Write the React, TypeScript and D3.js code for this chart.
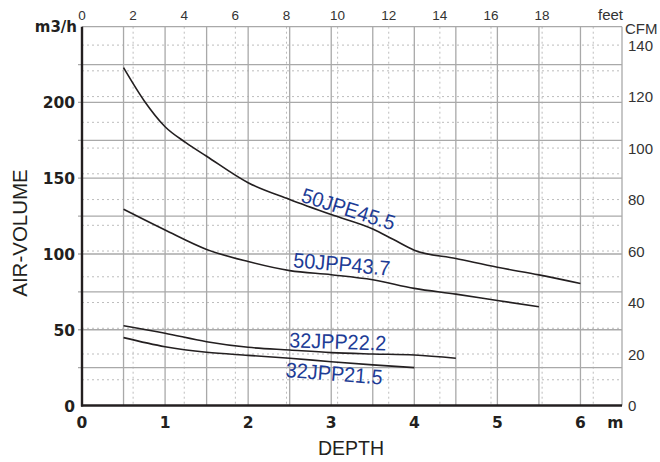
import React from "react";
import * as d3 from "d3";

// ---- data ----
const depthTicks = [0, 1, 2, 3, 4, 5, 6];
const airTicks = [0, 50, 100, 150, 200];
const feetTicks = [0, 2, 4, 6, 8, 10, 12, 14, 16, 18];
const cfmTicks = [0, 20, 40, 60, 80, 100, 120, 140];

const depthJPE455 = [0.5, 0.75, 1, 1.25, 1.5, 2, 2.5, 3, 3.5, 3.75, 4, 4.5, 5, 5.5, 6];
const airJPE455 = [223, 201, 184, 173.5, 164.5, 147, 136, 126, 116.5, 109.5, 102.5, 97, 91.2, 86.2, 80.5];

const depthJPP437 = [0.5, 1, 1.5, 2, 2.5, 3, 3.5, 4, 4.5, 5, 5.5];
const airJPP437 = [129.5, 115.8, 103, 95, 89, 86.3, 83, 77.3, 73.5, 69.3, 65.2];

const depthJPP222 = [0.5, 1, 1.5, 2, 2.5, 3, 3.5, 4, 4.5];
const airJPP222 = [52.7, 47.7, 42.1, 38.4, 36.6, 34.9, 34, 33.3, 31.2];

const depthJPP215 = [0.5, 1, 1.5, 2, 2.5, 3, 3.5, 4];
const airJPP215 = [44.8, 38.8, 35.1, 33.1, 31.2, 28.9, 26.8, 25];

const seriesNames = ["50JPE45.5", "50JPP43.7", "32JPP22.2", "32JPP21.5"];

const M3H_PER_CFM = 1.699;
const FT_PER_M = 3.25; // as drawn on the reference's top axis

const W = 660;
const H = 462;
const margin = { left: 82, right: 38, top: 26.7, bottom: 56.5 };

export default function App() {
  const x = d3.scaleLinear().domain([0, 6.5]).range([margin.left, W - margin.right]);
  const y = d3.scaleLinear().domain([0, 250]).range([H - margin.bottom, margin.top]);
  const xFeet = d3
    .scaleLinear()
    .domain([0, 20])
    .range([x(0), x(20 / FT_PER_M)]);
  const yCfm = d3
    .scaleLinear()
    .domain([0, 140])
    .range([y(0), y(140 * M3H_PER_CFM)]);

  const line = d3
    .line<[number, number]>()
    .x((d) => x(d[0]))
    .y((d) => y(d[1]))
    .curve(d3.curveMonotoneX);

  const series = [
    { d: depthJPE455, v: airJPE455 },
    { d: depthJPP437, v: airJPP437 },
    { d: depthJPP222, v: airJPP222 },
    { d: depthJPP215, v: airJPP215 },
  ];

  const solidV = d3.range(0.5, 6.01, 0.5);
  const solidH = d3.range(25, 226, 25);
  const dottedV = d3.range(2, 21, 2);
  const dottedH = d3.range(10, 141, 10);

  const x0 = x(0);
  const x1 = x(6.5);
  const y0 = y(0);
  const y1 = y(250);

  const gridGrey = "#a9a9a9";
  const dotGrey = "#bdbdbd";
  const ink = "#231f20";
  const blue = "#1d3c96";

  // label placements (depth, air-volume, rotation)
  const labels = [
    { text: seriesNames[0], dx: 3.18, dv: 125, rot: 17.5 },
    { text: seriesNames[1], dx: 3.12, dv: 88.5, rot: 5 },
    { text: seriesNames[2], dx: 3.075, dv: 37.3, rot: 2 },
    { text: seriesNames[3], dx: 3.03, dv: 16.3, rot: 4.5 },
  ];

  return (
    <svg
      width={W}
      height={H}
      style={{ position: "absolute", left: 0, top: 0, background: "#fff" }}
      fontFamily="'Liberation Sans', Arial, sans-serif"
    >
      <rect x={0} y={0} width={W} height={H} fill="#fff" />
      {/* dotted grid (feet / CFM) */}
      {dottedV.map((f) => (
        <line
          key={"dv" + f}
          x1={xFeet(f)}
          x2={xFeet(f)}
          y1={y1}
          y2={y0}
          stroke={dotGrey}
          strokeWidth={1}
          strokeDasharray="2 3"
        />
      ))}
      {dottedH.map((c) => (
        <line
          key={"dh" + c}
          x1={x0}
          x2={x1}
          y1={yCfm(c)}
          y2={yCfm(c)}
          stroke={dotGrey}
          strokeWidth={1}
          strokeDasharray="2 3"
        />
      ))}
      {/* solid grid */}
      {solidV.map((m) => (
        <line key={"sv" + m} x1={x(m)} x2={x(m)} y1={y1} y2={y0} stroke={gridGrey} strokeWidth={1.3} />
      ))}
      {solidH.map((v) => (
        <line key={"sh" + v} x1={x0 - 4} x2={x1} y1={y(v)} y2={y(v)} stroke={gridGrey} strokeWidth={1.3} />
      ))}
      <line x1={x0} x2={x1} y1={y1} y2={y1} stroke={gridGrey} strokeWidth={1.3} />
      <line x1={x1} x2={x1} y1={y1} y2={y0} stroke={gridGrey} strokeWidth={1.3} />

      {/* axes */}
      <line x1={x0} x2={x0} y1={y1} y2={y0 + 1} stroke={ink} strokeWidth={2.4} />
      <line x1={x0 - 1} x2={x1} y1={y0} y2={y0} stroke={ink} strokeWidth={2.4} />

      {/* curves */}
      {series.map((s, i) => (
        <path
          key={"s" + i}
          d={line(s.d.map((dd, j) => [dd, s.v[j]] as [number, number])) || ""}
          fill="none"
          stroke={ink}
          strokeWidth={1.6}
        />
      ))}

      {/* series labels */}
      {labels.map((l) => (
        <text
          key={l.text}
          x={x(l.dx)}
          y={y(l.dv)}
          transform={`rotate(${l.rot} ${x(l.dx)} ${y(l.dv)})`}
          textAnchor="middle"
          fontSize={21}
          fill={blue}
          textLength={97}
          lengthAdjust="spacingAndGlyphs"
        >
          {l.text}
        </text>
      ))}

      {/* left axis labels */}
      {airTicks.map((v) => (
        <text
          key={"la" + v}
          x={x0 - 7}
          y={y(v) + 6}
          textAnchor="end"
          fontFamily="'DejaVu Sans', sans-serif"
          fontWeight="bold"
          fontSize={15.5}
          fill={ink}
        >
          {v}
        </text>
      ))}
      <text
        x={x0 - 5}
        y={32}
        textAnchor="end"
        fontFamily="'DejaVu Sans', sans-serif"
        fontWeight="bold"
        fontSize={15}
        fill={ink}
      >
        m3/h
      </text>

      {/* bottom axis labels */}
      {depthTicks.map((m) => (
        <text
          key={"bd" + m}
          x={x(m)}
          y={y0 + 22}
          textAnchor="middle"
          fontFamily="'DejaVu Sans', sans-serif"
          fontWeight="bold"
          fontSize={15.5}
          fill={ink}
        >
          {m}
        </text>
      ))}
      <text
        x={x(6.42)}
        y={y0 + 22}
        textAnchor="middle"
        fontFamily="'DejaVu Sans', sans-serif"
        fontWeight="bold"
        fontSize={15.5}
        fill={ink}
      >
        m
      </text>

      {/* top axis (feet) */}
      {feetTicks.map((f) => (
        <text key={"tf" + f} x={xFeet(f)} y={20} textAnchor="middle" fontSize={13.5} fill="#333">
          {f}
        </text>
      ))}
      <text x={x1 + 1} y={20} textAnchor="end" fontSize={15} fill="#333">
        feet
      </text>

      {/* right axis (CFM) */}
      {cfmTicks.map((c) => (
        <text key={"rc" + c} x={x1 + 6} y={yCfm(c) + 5.5} textAnchor="start" fontSize={15} fill="#333">
          {c}
        </text>
      ))}
      <text x={x1 + 3} y={33.5} textAnchor="start" fontSize={15} fill="#333">
        CFM
      </text>

      {/* axis titles */}
      <text x={(x0 + x1) / 2 - 1} y={455} textAnchor="middle" fontSize={19.5} fill={ink}>
        DEPTH
      </text>
      <text
        x={0}
        y={0}
        transform={`translate(26.5 ${233}) rotate(-90)`}
        textAnchor="middle"
        fontSize={20.5}
        fill={ink}
      >
        AIR-VOLUME
      </text>
    </svg>
  );
}
